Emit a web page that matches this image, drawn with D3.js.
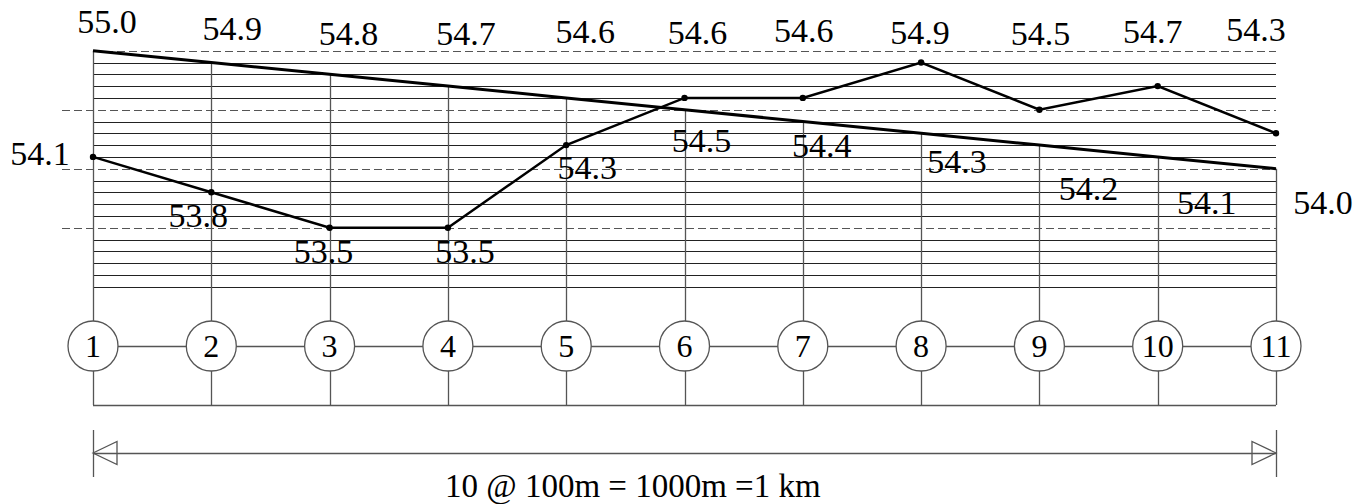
<!DOCTYPE html>
<html>
<head>
<meta charset="utf-8">
<script src="https://cdn.jsdelivr.net/npm/d3@7"></script>
<style>
  body { margin: 0; background: #fff; }
</style>
</head>
<body>
<script>
// stations and levels (m)
var stations = [1, 2, 3, 4, 5, 6, 7, 8, 9, 10, 11];
var formation = [55.0, 54.9, 54.8, 54.7, 54.6, 54.5, 54.4, 54.3, 54.2, 54.1, 54.0];
// ground points as drawn (station 5 is plotted a little under its 54.3 label)
var ground = [54.1, 53.8, 53.5, 53.5, 54.2, 54.6, 54.6, 54.9, 54.5, 54.7, 54.3];
var topLabels = ["55.0", "54.9", "54.8", "54.7", "54.6", "54.6", "54.6", "54.9", "54.5", "54.7", "54.3"];
var lowLabels = ["54.1", "53.8", "53.5", "53.5", "54.3", "54.5", "54.4", "54.3", "54.2", "54.1", "54.0"];
var dashedLevels = [55.0, 54.5, 54.0, 53.5];
var spanText = "10 @ 100m = 1000m =1 km";

// label placement (px), kept apart from the values
var topDx = [14, 21, 19, 18, 19, 13, 1, -1, 1, -5, -20];
var topY = [33, 40, 45, 45, 43, 44, 42, 44, 45, 43, 41];
var lowDx = [-53, -13, -6, 17, 21, 17, 19, 36, 49, 49, 47];
var lowY = [165, 227, 263, 263, 179, 152, 157, 173, 200, 214, 214];

var width = 1371,
    height = 504;
var serif = "'Liberation Serif', 'Times New Roman', Times, 'DejaVu Serif', serif";

var svg = d3.select("body")
    .append("svg")
    .attr("width", width)
    .attr("height", height)
    .attr("font-family", serif);

var x = d3.scaleLinear().domain([1, 11]).range([93, 1276]);
var y = d3.scaleLinear().domain([53.0, 55.0]).range([286.7, 50.7]);

var circleY = 346, baseY = 405, dimY = 453;

// horizontal grid every 0.1 m
var levels = y.ticks(20);
svg.selectAll("line.grid")
    .data(levels.filter(d => !dashedLevels.some(v => Math.abs(v - d) < 1e-6)))
    .enter().append("line")
    .attr("class", "grid")
    .attr("x1", x(1)).attr("x2", x(11))
    .attr("y1", d => Math.round(y(d)) + 0.5)
    .attr("y2", d => Math.round(y(d)) + 0.5)
    .attr("stroke", "#222").attr("stroke-width", 1);

// dashed 0.5 m lines
svg.selectAll("line.dash")
    .data(dashedLevels)
    .enter().append("line")
    .attr("class", "dash")
    .attr("x1", (d, i) => i == 0 ? x(1) : x(1) - 31)
    .attr("x2", x(11))
    .attr("y1", d => Math.round(y(d)) + 0.5)
    .attr("y2", d => Math.round(y(d)) + 0.5)
    .attr("stroke", "#555").attr("stroke-width", 1)
    .attr("stroke-dasharray", "8,4");

// station verticals, from formation line down to base
svg.selectAll("line.vert")
    .data(stations)
    .enter().append("line")
    .attr("class", "vert")
    .attr("x1", d => Math.round(x(d)) + 0.5)
    .attr("x2", d => Math.round(x(d)) + 0.5)
    .attr("y1", (d, i) => y(formation[i]))
    .attr("y2", baseY)
    .attr("stroke", "#555").attr("stroke-width", 1.3);

// base line + connector through circles
svg.append("line")
    .attr("x1", x(1)).attr("x2", x(11))
    .attr("y1", baseY + 0.5).attr("y2", baseY + 0.5)
    .attr("stroke", "#555").attr("stroke-width", 1.3);
svg.append("line")
    .attr("x1", x(1)).attr("x2", x(11))
    .attr("y1", circleY + 0.5).attr("y2", circleY + 0.5)
    .attr("stroke", "#555").attr("stroke-width", 1.3);

// formation (straight) line
var line = d3.line().x((d, i) => x(stations[i])).y(d => y(d));
svg.append("path")
    .datum(formation)
    .attr("d", line)
    .attr("fill", "none")
    .attr("stroke", "#000")
    .attr("stroke-width", 3);

// ground line
svg.append("path")
    .datum(ground)
    .attr("d", line)
    .attr("fill", "none")
    .attr("stroke", "#000")
    .attr("stroke-width", 2.5);
svg.selectAll("circle.pt")
    .data(ground)
    .enter().append("circle")
    .attr("class", "pt")
    .attr("cx", (d, i) => x(stations[i]))
    .attr("cy", d => y(d))
    .attr("r", 3.2)
    .attr("fill", "#000");

// level labels: higher value above, lower value below
svg.selectAll("text.top")
    .data(topLabels)
    .enter().append("text")
    .attr("class", "top")
    .attr("x", (d, i) => x(stations[i]) + topDx[i])
    .attr("y", (d, i) => topY[i])
    .attr("text-anchor", "middle")
    .attr("font-size", 34)
    .attr("fill", "#000")
    .text(d => d);

svg.selectAll("text.low")
    .data(lowLabels)
    .enter().append("text")
    .attr("class", "low")
    .attr("x", (d, i) => x(stations[i]) + lowDx[i])
    .attr("y", (d, i) => lowY[i])
    .attr("text-anchor", "middle")
    .attr("font-size", 34)
    .attr("fill", "#000")
    .text(d => d);

// station circles
var st = svg.selectAll("g.st")
    .data(stations)
    .enter().append("g")
    .attr("class", "st")
    .attr("transform", d => "translate(" + x(d) + "," + circleY + ")");
st.append("circle")
    .attr("r", 25)
    .attr("fill", "#fff")
    .attr("stroke", "#555")
    .attr("stroke-width", 1.3);
st.append("text")
    .attr("y", 10.5)
    .attr("text-anchor", "middle")
    .attr("font-size", 32)
    .attr("fill", "#000")
    .text(d => d);

// dimension line
svg.append("line")
    .attr("x1", x(1)).attr("x2", x(11))
    .attr("y1", dimY + 0.5).attr("y2", dimY + 0.5)
    .attr("stroke", "#555").attr("stroke-width", 1.3);
[x(1), x(11)].forEach(function(px, k) {
    svg.append("line")
        .attr("x1", Math.round(px) + 0.5).attr("x2", Math.round(px) + 0.5)
        .attr("y1", dimY - 23).attr("y2", dimY + 24)
        .attr("stroke", "#555").attr("stroke-width", 1.3);
    var s = k == 0 ? 1 : -1;
    svg.append("path")
        .attr("d", "M" + px + "," + dimY + "L" + (px + s * 24) + "," + (dimY - 11.5) +
             "L" + (px + s * 24) + "," + (dimY + 11.5) + "Z")
        .attr("fill", "none")
        .attr("stroke", "#555")
        .attr("stroke-width", 1.3);
});

svg.append("text")
    .attr("x", 445)
    .attr("y", 497)
    .attr("font-size", 33)
    .attr("fill", "#000")
    .text(spanText);
</script>
</body>
</html>
